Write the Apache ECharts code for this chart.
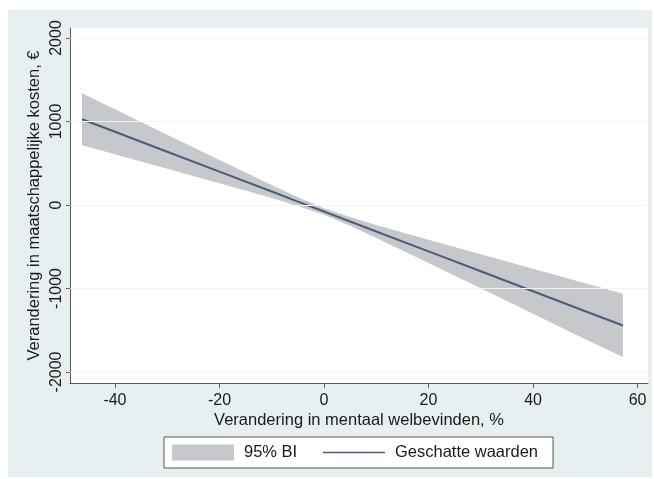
<!DOCTYPE html>
<html>
<head>
<meta charset="utf-8">
<script src="https://cdn.jsdelivr.net/npm/echarts@6/dist/echarts.min.js"></script>
<style>
html,body{margin:0;padding:0;background:#ffffff;}
#bg{position:absolute;left:8px;top:10px;width:644px;height:467px;background:#e7eff1;}
#chart{position:absolute;left:0;top:0;width:654px;height:479px;}
</style>
</head>
<body>
<div id="bg"></div>
<div id="chart"></div>
<script>
// Values
const xValues   = [-46.3, -40, -30, -20, -10, -5, 0, 5, 10, 20, 30, 40, 50, 57.2];
const estimate  = [1027, 877, 638, 399, 161, 41, -78, -197, -317, -555, -794, -1033, -1272, -1443];
const ciUpper   = [1338, 1147, 842, 538, 239, 93, -38, -145, -239, -416, -590, -763, -936, -1062];
const ciLower   = [716, 607, 434, 260, 83, -11, -118, -249, -395, -694, -998, -1303, -1608, -1822];
const xTicks    = [-40, -20, 0, 20, 40, 60];
const yTicks    = [-2000, -1000, 0, 1000, 2000];
const xTitle    = 'Verandering in mentaal welbevinden, %';
const yTitle    = 'Verandering in maatschappelijke kosten, €';
const bandName  = '95% BI';
const lineName  = 'Geschatte waarden';

const font = 'Liberation Sans, Arial, Helvetica, sans-serif';
const chart = echarts.init(document.getElementById('chart'), null, {renderer: 'canvas'});

const bandPoly = xValues.map((x, i) => [x, ciUpper[i]])
  .concat(xValues.map((x, i) => [x, ciLower[i]]).reverse());

chart.setOption({
  backgroundColor: 'transparent',
  animation: false,
  grid: {left: 70, right: 6, top: 28, bottom: 96, show: true, backgroundColor: '#ffffff', borderWidth: 0},
  xAxis: {
    type: 'value', min: -48.6, max: 62.0,
    name: xTitle, nameLocation: 'middle', nameGap: 29, nameMoveOverlap: false,
    nameTextStyle: {fontFamily: font, fontSize: 16.5, color: '#1a1a1a'},
    axisLine: {show: true, onZero: false, lineStyle: {color: '#5a5a5a', width: 1}},
    axisTick: {show: true, length: 5, customValues: xTicks, lineStyle: {color: '#5a5a5a'}},
    axisLabel: {customValues: xTicks, margin: 10, fontFamily: font, fontSize: 16, color: '#1a1a1a',
      formatter: v => String(v)},
    splitLine: {show: false}
  },
  yAxis: {
    type: 'value', min: -2132, max: 2120,
    name: yTitle, nameLocation: 'middle', nameGap: 27, nameMoveOverlap: false,
    nameTextStyle: {fontFamily: font, fontSize: 16.5, color: '#1a1a1a'},
    axisLine: {show: true, onZero: false, lineStyle: {color: '#5a5a5a', width: 1}},
    axisTick: {show: true, length: 4, customValues: yTicks, lineStyle: {color: '#5a5a5a'}},
    axisLabel: {customValues: yTicks, rotate: 90, margin: 5, fontFamily: font, fontSize: 16, color: '#1a1a1a',
      formatter: v => String(v)},
    splitLine: {show: false}
  },
  legend: {
    left: 164, top: 437, width: 390,
    padding: [7, 15, 7, 8],
    itemGap: 25, itemWidth: 62, itemHeight: 16,
    backgroundColor: '#ffffff', borderColor: '#555555', borderWidth: 1,
    textStyle: {fontFamily: font, fontSize: 16.5, color: '#1a1a1a', padding: [0, 0, 0, 5]},
    data: [
      {name: bandName, icon: 'rect', itemStyle: {color: '#c6c8cb'}},
      {name: lineName, itemStyle: {opacity: 0, color: 'rgba(0,0,0,0)', borderColor: 'rgba(0,0,0,0)'},
       lineStyle: {color: '#4d5c78', width: 1.5}}
    ]
  },
  series: [
    {
      name: 'grid',
      type: 'line',
      data: [],
      silent: true,
      markLine: {
        symbol: 'none', silent: true, label: {show: false},
        lineStyle: {color: '#f3f3f0', width: 1, type: 'solid'},
        data: yTicks.map(v => ({yAxis: v}))
      }
    },
    {
      name: bandName,
      type: 'custom',
      itemStyle: {color: '#c6c8cb'},
      data: [[0, 0]],
      renderItem: function (params, api) {
        const pts = bandPoly.map(p => api.coord(p));
        return {type: 'polygon', shape: {points: pts}, style: {fill: '#c6c8cb'}};
      },
      z: 2
    },
    {
      name: lineName,
      type: 'line',
      data: xValues.map((x, i) => [x, estimate[i]]),
      symbol: 'none',
      lineStyle: {color: '#4d5c78', width: 2},
      itemStyle: {color: '#4d5c78'},
      z: 3
    }
  ]
});
</script>
</body>
</html>
